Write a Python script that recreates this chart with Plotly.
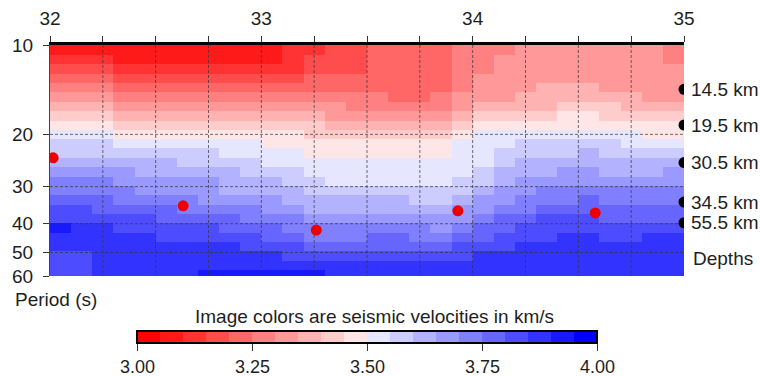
import numpy as np
import plotly.graph_objects as go

# ---------------- data ----------------
lon_edges = [32.0, 32.1, 32.2, 32.3, 32.4, 32.5, 32.6, 32.7, 32.8, 32.9, 33.0,
             33.1, 33.2, 33.3, 33.4, 33.5, 33.6, 33.7, 33.8, 33.9, 34.0,
             34.1, 34.2, 34.3, 34.4, 34.5, 34.6, 34.7, 34.8, 34.9, 35.0]
period_edges = [10, 10.8, 11.6, 12.5, 13.4, 14.4, 15.5, 16.7, 18, 19.3, 20.8, 22.3, 24,
                25.8, 27.8, 29.9, 32.1, 34.5, 37.1, 39.9, 42.9, 46.1, 49.6, 53.3, 57.3, 60]

# velocity (km/s) profiles, one list per longitude column, top (short period) to bottom
velocity_profiles = [
    [3.08,3.13,3.18,3.23,3.28,3.33,3.38,3.43,3.48,3.53,3.58,3.58,3.63,3.68,3.73,3.73,3.78,3.83,3.83,3.93,3.88,3.88,3.83,3.83,3.83],
    [3.08,3.13,3.18,3.23,3.28,3.33,3.38,3.43,3.48,3.53,3.58,3.58,3.63,3.68,3.73,3.73,3.78,3.83,3.83,3.88,3.88,3.88,3.83,3.83,3.83],
    [3.08,3.13,3.18,3.23,3.28,3.33,3.38,3.43,3.48,3.53,3.58,3.58,3.63,3.68,3.73,3.73,3.78,3.78,3.83,3.88,3.88,3.88,3.88,3.88,3.88],
    [3.08,3.08,3.13,3.18,3.23,3.28,3.33,3.38,3.43,3.48,3.53,3.58,3.63,3.68,3.68,3.73,3.73,3.78,3.83,3.83,3.88,3.88,3.88,3.88,3.88],
    [3.08,3.08,3.13,3.18,3.23,3.28,3.33,3.38,3.43,3.48,3.53,3.58,3.63,3.63,3.68,3.68,3.73,3.78,3.83,3.83,3.88,3.88,3.88,3.88,3.88],
    [3.08,3.08,3.13,3.18,3.23,3.28,3.33,3.38,3.43,3.48,3.53,3.58,3.63,3.63,3.68,3.68,3.73,3.78,3.78,3.83,3.83,3.88,3.88,3.88,3.88],
    [3.08,3.08,3.13,3.18,3.23,3.28,3.33,3.38,3.43,3.48,3.53,3.58,3.58,3.63,3.68,3.68,3.73,3.73,3.78,3.83,3.83,3.88,3.88,3.88,3.88],
    [3.08,3.08,3.13,3.18,3.23,3.28,3.33,3.38,3.43,3.48,3.53,3.58,3.58,3.63,3.68,3.68,3.68,3.73,3.78,3.83,3.83,3.88,3.88,3.88,3.93],
    [3.08,3.08,3.13,3.18,3.23,3.28,3.33,3.38,3.43,3.48,3.53,3.53,3.58,3.63,3.63,3.63,3.68,3.73,3.78,3.78,3.83,3.88,3.88,3.88,3.93],
    [3.08,3.08,3.13,3.18,3.23,3.28,3.33,3.38,3.43,3.48,3.53,3.53,3.58,3.58,3.63,3.63,3.68,3.73,3.73,3.78,3.83,3.83,3.88,3.88,3.93],
    [3.08,3.08,3.13,3.18,3.23,3.28,3.33,3.38,3.43,3.48,3.48,3.53,3.53,3.58,3.63,3.63,3.68,3.68,3.73,3.78,3.78,3.83,3.88,3.88,3.93],
    [3.13,3.13,3.13,3.18,3.23,3.28,3.33,3.38,3.43,3.48,3.48,3.53,3.53,3.58,3.58,3.63,3.63,3.68,3.73,3.73,3.78,3.83,3.83,3.88,3.93],
    [3.13,3.18,3.18,3.23,3.23,3.28,3.33,3.38,3.43,3.43,3.48,3.48,3.53,3.53,3.58,3.58,3.63,3.63,3.68,3.73,3.73,3.78,3.83,3.88,3.93],
    [3.18,3.18,3.18,3.23,3.23,3.28,3.33,3.33,3.38,3.43,3.48,3.48,3.53,3.53,3.53,3.58,3.63,3.63,3.68,3.73,3.73,3.78,3.83,3.88,3.88],
    [3.18,3.18,3.18,3.23,3.23,3.28,3.28,3.33,3.38,3.43,3.48,3.48,3.53,3.53,3.53,3.58,3.63,3.63,3.68,3.73,3.73,3.78,3.83,3.88,3.88],
    [3.23,3.23,3.23,3.23,3.23,3.28,3.28,3.33,3.38,3.43,3.48,3.48,3.53,3.53,3.53,3.58,3.63,3.63,3.68,3.73,3.78,3.78,3.83,3.88,3.88],
    [3.23,3.23,3.23,3.23,3.23,3.23,3.28,3.33,3.38,3.43,3.48,3.48,3.53,3.53,3.53,3.58,3.63,3.63,3.68,3.73,3.78,3.78,3.83,3.88,3.88],
    [3.23,3.23,3.23,3.23,3.23,3.23,3.28,3.33,3.38,3.43,3.48,3.48,3.53,3.53,3.53,3.58,3.58,3.63,3.68,3.73,3.73,3.78,3.83,3.88,3.88],
    [3.23,3.23,3.23,3.23,3.23,3.28,3.28,3.33,3.38,3.43,3.48,3.48,3.53,3.53,3.53,3.58,3.58,3.63,3.68,3.68,3.73,3.78,3.83,3.88,3.88],
    [3.28,3.28,3.28,3.28,3.28,3.33,3.33,3.38,3.43,3.48,3.53,3.53,3.53,3.53,3.58,3.58,3.63,3.68,3.68,3.73,3.78,3.83,3.83,3.88,3.88],
    [3.28,3.28,3.28,3.33,3.33,3.33,3.38,3.43,3.48,3.53,3.53,3.53,3.53,3.58,3.58,3.63,3.68,3.68,3.73,3.78,3.78,3.83,3.88,3.88,3.88],
    [3.28,3.33,3.33,3.33,3.33,3.33,3.38,3.43,3.48,3.53,3.53,3.58,3.58,3.63,3.63,3.68,3.68,3.73,3.78,3.78,3.83,3.83,3.88,3.88,3.88],
    [3.33,3.33,3.33,3.33,3.33,3.38,3.38,3.43,3.48,3.53,3.58,3.58,3.63,3.63,3.68,3.68,3.73,3.73,3.78,3.83,3.83,3.88,3.88,3.88,3.88],
    [3.33,3.33,3.33,3.33,3.38,3.38,3.38,3.43,3.48,3.53,3.58,3.58,3.63,3.63,3.68,3.73,3.73,3.78,3.83,3.83,3.83,3.88,3.88,3.88,3.88],
    [3.33,3.33,3.33,3.33,3.38,3.38,3.43,3.48,3.48,3.53,3.58,3.58,3.63,3.68,3.68,3.73,3.73,3.78,3.83,3.83,3.88,3.88,3.88,3.88,3.88],
    [3.33,3.33,3.33,3.33,3.38,3.38,3.43,3.48,3.48,3.53,3.58,3.63,3.63,3.68,3.68,3.73,3.78,3.78,3.83,3.83,3.88,3.88,3.88,3.88,3.88],
    [3.33,3.33,3.33,3.33,3.33,3.38,3.43,3.43,3.48,3.53,3.58,3.58,3.63,3.63,3.68,3.73,3.73,3.78,3.78,3.83,3.83,3.88,3.88,3.88,3.88],
    [3.33,3.33,3.33,3.33,3.33,3.38,3.38,3.43,3.48,3.53,3.53,3.58,3.63,3.63,3.68,3.73,3.73,3.78,3.78,3.83,3.83,3.88,3.88,3.88,3.88],
    [3.33,3.33,3.33,3.33,3.33,3.33,3.38,3.43,3.48,3.48,3.53,3.58,3.63,3.63,3.68,3.73,3.73,3.78,3.78,3.83,3.88,3.88,3.88,3.88,3.88],
    [3.28,3.28,3.33,3.33,3.33,3.33,3.38,3.43,3.48,3.48,3.53,3.58,3.63,3.68,3.68,3.73,3.73,3.78,3.78,3.83,3.88,3.88,3.88,3.88,3.88],
]

red_lon = [32.015, 32.63, 33.26, 33.93, 34.58]
red_period = [24.0, 34.8, 42.0, 36.2, 36.8]

depth_period = [14.1, 18.6, 24.9, 33.8, 39.7]
depth_labels = ["14.5 km", "19.5 km", "30.5 km", "34.5 km", "55.5 km"]
depth_lon = [35.0, 35.0, 35.0, 35.0, 35.0]

x_tick_positions = [32.0, 32.25, 32.5, 32.75, 33.0, 33.25, 33.5, 33.75, 34.0,
                    34.25, 34.5, 34.75, 35.0]
x_tick_labels = [32, 33, 34, 35]
y_ticks = [10, 20, 30, 40, 50, 60]
y_grid = [20, 30, 40, 50]
cbar_ticks = [3.0, 3.25, 3.5, 3.75, 4.0]
vmin, vmax = 3.0, 4.0
n_levels = 20

# ---------------- layout constants (pixels) ----------------
W, H = 760, 376
ML, MR, MT, MB = 50, 76, 45, 100
PW, PH = W - ML - MR, H - MT - MB
CB_LEFT, CB_LEN, CB_TOP = 137, 460, 331

def px_x(px):
    return (px - ML) / PW

def px_y(py):
    return (H - MB - py) / PH

FONT = "Liberation Sans, Arial, sans-serif"
TXT = "#1e1e1e"

def level_color(i):
    if i < n_levels // 2:
        t = i / (n_levels / 2)
        c = int(round(255 * t))
        return f"rgb(255,{c},{c})"
    s = (i + 1 - n_levels / 2) / (n_levels / 2)
    c = int(round(255 * (1 - s)))
    return f"rgb({c},{c},255)"

colorscale = []
for i in range(n_levels):
    col = level_color(i)
    colorscale.append([i / n_levels, col])
    colorscale.append([(i + 1) / n_levels, col])

z = np.array(velocity_profiles).T

fig = go.Figure()

fig.add_trace(go.Heatmap(
    x=lon_edges, y=period_edges, z=z,
    zmin=vmin, zmax=vmax, colorscale=colorscale, zsmooth=False,
    hoverinfo="skip",
    colorbar=dict(
        orientation="h", xref="paper", yref="paper",
        x=px_x(CB_LEFT + CB_LEN / 2), xanchor="center", y=px_y(CB_TOP), yanchor="top",
        len=CB_LEN, lenmode="pixels", thickness=12,
        outlinewidth=2, outlinecolor="black",
        xpad=0, ypad=0,
        tickvals=cbar_ticks, showticklabels=False,
        ticks="outside", ticklen=7, tickwidth=1, tickcolor="#333",
    ),
))

# dashed grid lines drawn over the image
gx, gy = [], []
for v in x_tick_positions[1:-1]:
    gx += [v, v, None]
    gy += [period_edges[0], period_edges[-1], None]
fig.add_trace(go.Scatter(x=gx, y=gy, mode="lines", hoverinfo="skip", showlegend=False,
                         line=dict(color="rgba(55,55,55,0.9)", width=0.8, dash="3px,2px")))
hx, hy = [], []
for v in y_grid:
    hx += [lon_edges[0], lon_edges[-1], None]
    hy += [v, v, None]
fig.add_trace(go.Scatter(x=hx, y=hy, mode="lines", hoverinfo="skip", showlegend=False,
                         line=dict(color="rgba(55,55,55,0.9)", width=0.8, dash="3px,2px")))

fig.add_trace(go.Scatter(x=red_lon, y=red_period, mode="markers", showlegend=False,
                         marker=dict(color="rgb(238,0,0)", size=11, line=dict(width=0))))
fig.add_trace(go.Scatter(x=depth_lon, y=depth_period, mode="markers", showlegend=False,
                         marker=dict(color="black", size=11, line=dict(width=0))))

annotations = []
for p, lab in zip(depth_period, depth_labels):
    annotations.append(dict(x=35.0, xref="x", y=float(np.log10(p)), yref="y", text=lab,
                            showarrow=False, xanchor="left", yanchor="middle", xshift=5,
                            font=dict(family=FONT, size=19, color=TXT)))
annotations.append(dict(x=35.0, xref="x", y=px_y(258), yref="paper", text="Depths",
                        showarrow=False, xanchor="left", yanchor="middle", xshift=7,
                        font=dict(family=FONT, size=19, color=TXT)))
annotations.append(dict(x=px_x(13), xref="paper", y=px_y(299), yref="paper",
                        text="Period (s)", showarrow=False, xanchor="left", yanchor="middle",
                        font=dict(family=FONT, size=19, color=TXT)))
annotations.append(dict(x=px_x(374), xref="paper", y=px_y(316), yref="paper",
                        text="Image colors are seismic velocities in km/s", showarrow=False,
                        xanchor="center", yanchor="middle",
                        font=dict(family=FONT, size=19, color=TXT)))
# colorbar tick labels
for v in cbar_ticks:
    cx = CB_LEFT + (v - vmin) / (vmax - vmin) * CB_LEN
    annotations.append(dict(x=px_x(cx), xref="paper", y=px_y(367), yref="paper",
                            text=f"{v:.2f}", showarrow=False, xanchor="center", yanchor="middle",
                            font=dict(family=FONT, size=18, color=TXT)))

fig.update_layout(
    width=W, height=H,
    margin=dict(l=ML, r=MR, t=MT, b=MB, autoexpand=False),
    paper_bgcolor="white", plot_bgcolor="white",
    showlegend=False,
    annotations=annotations,
    xaxis=dict(
        range=[lon_edges[0], lon_edges[-1]], side="top",
        tickvals=x_tick_positions,
        ticktext=[str(int(v)) if v in x_tick_labels else "" for v in x_tick_positions],
        ticks="outside", ticklen=6, tickwidth=1, tickcolor="#333",
        ticklabelstandoff=4,
        showgrid=False, zeroline=False,
        showline=True, linecolor="black", linewidth=2.5, mirror=False,
        tickfont=dict(family=FONT, size=19, color=TXT),
        layer="above traces",
    ),
    yaxis=dict(
        type="log", range=[np.log10(period_edges[-1]), np.log10(period_edges[0])],
        tickvals=y_ticks, ticktext=[str(v) for v in y_ticks],
        ticks="outside", ticklen=6, tickwidth=1, tickcolor="#333",
        ticklabelstandoff=6,
        showgrid=False, zeroline=False,
        showline=True, linecolor="#444", linewidth=1,
        tickfont=dict(family=FONT, size=19, color=TXT),
        layer="above traces",
    ),
)

fig.write_html("out.html")
